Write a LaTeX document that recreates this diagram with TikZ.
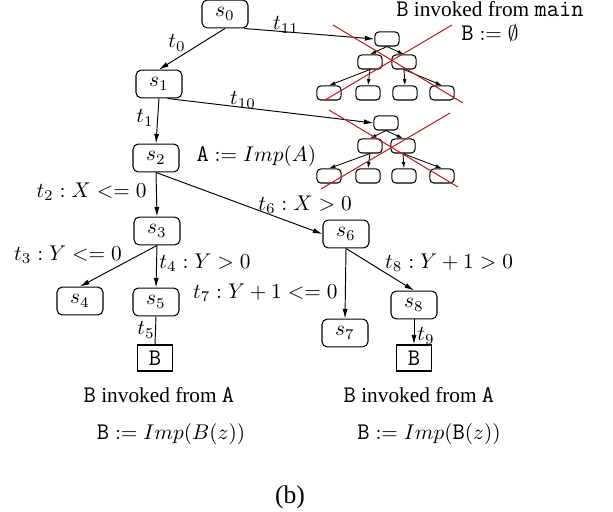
\documentclass[tikz,border=0pt]{standalone}
\usepackage[no-math]{fontspec}
\setmainfont{Liberation Serif}
\usetikzlibrary{arrows.meta}
\definecolor{crossred}{RGB}{185,35,35}
\newcommand{\cw}[1]{\mbox{\fontsize{11.2}{13}\selectfont\ttfamily #1}}
\begin{document}
\begin{tikzpicture}[x=0.4695pt,y=-0.4695pt,
    state/.style={draw,rounded corners=2.5pt,minimum width=21.6pt,minimum height=13.1pt,inner sep=1pt,line width=0.5pt},
    sub/.style={draw,rounded corners=1.8pt,minimum width=11.3pt,minimum height=6.6pt,inner sep=0pt,line width=0.5pt},
    call/.style={draw,minimum width=16.5pt,minimum height=12.2pt,inner sep=1pt,line width=0.5pt},
    tr/.style={-{Latex[length=4.5pt,width=2.4pt]},line width=0.45pt},
    trs/.style={-{Latex[length=3pt,width=1.8pt]},line width=0.4pt},
    cross/.style={crossred,line width=0.5pt}]
    \useasboundingbox (0,0) rectangle (613,512);
    % states
    \node[state] (s0) at (225,14) {$s_0$};
    \node[state] (s1) at (159,84) {$s_1$};
    \node[state] (s2) at (156,158) {$s_2$};
    \node[state] (s3) at (157,231) {$s_3$};
    \node[state] (s4) at (80,301) {$s_4$};
    \node[state] (s5) at (156,302) {$s_5$};
    \node[state] (s6) at (346,234) {$s_6$};
    \node[state] (s7) at (345,333) {$s_7$};
    \node[state] (s8) at (414,305) {$s_8$};
    \node[call] (bl) at (155,358) {\cw{B}};
    \node[call] (br) at (414,358) {\cw{B}};
    % subtree invoked from main
    \node[sub] (ma) at (387,39) {};
    \node[sub] (mb) at (370,62) {};
    \node[sub] (mc) at (404,62) {};
    \node[sub] (md) at (329,93) {};
    \node[sub] (me) at (368,93) {};
    \node[sub] (mf) at (405,93) {};
    \node[sub] (mg) at (442,93) {};
    \draw[trs] (ma.south) -- (mb.north);
    \draw[trs] (ma.south) -- (mc.north);
    \draw[trs] (mb.south) -- (md.north);
    \draw[trs] (mb.south) -- (me.north);
    \draw[trs] (mc.south) -- (mf.north);
    \draw[trs] (mc.south) -- (mg.north);
    % subtree from s1
    \node[sub] (na) at (386,123) {};
    \node[sub] (nb) at (370,146) {};
    \node[sub] (nc) at (403,146) {};
    \node[sub] (nd) at (329,176) {};
    \node[sub] (ne) at (368,176) {};
    \node[sub] (nf) at (404,176) {};
    \node[sub] (ng) at (442,176) {};
    \draw[trs] (na.south) -- (nb.north);
    \draw[trs] (na.south) -- (nc.north);
    \draw[trs] (nb.south) -- (nd.north);
    \draw[trs] (nb.south) -- (ne.north);
    \draw[trs] (nc.south) -- (nf.north);
    \draw[trs] (nc.south) -- (ng.north);
    % transitions
    \draw[tr] (s0.south) -- (s1.north);
    \draw[tr] ([xshift=-2pt]s0.south east) -- (ma.west);
    \draw[tr] ([xshift=4pt]s1.south) -- (na.west);
    \draw[tr] (s1.south) -- (s2.north);
    \draw[tr] (s2.south) -- (s3.north);
    \draw[tr] (s2.south) -- (s6.west);
    \draw[tr] (s3.south) -- (s4.north);
    \draw[tr] (s3.south) -- (s5.north);
    \draw[line width=0.45pt] (s5.south) -- (bl.north);
    \draw[tr] (s6.south) -- (s7.north);
    \draw[tr] (s6.south) -- (s8.north);
    \draw[tr] (s8.south) -- (br.north);
    % crossed out
    \draw[cross] (333,25) -- (463,103);
    \draw[cross] (452,25) -- (325,100);
    \draw[cross] (329,110) -- (458,187);
    \draw[cross] (450,113) -- (321,189);
    % labels
    \node (l0) at (177,43) {$t_0$};
    \node (l1) at (145,118) {$t_1$};
    \node (l11) at (286,25) {$t_{11}$};
    \node (l10) at (243,100) {$t_{10}$};
    \node[anchor=west] (ia) at (189,156) {$\cw{A} := Imp(A)$};
    \node[anchor=east] (l2) at (154,192) {$t_2 : X <= 0$};
    \node (l6) at (305,205) {$t_6 : X > 0$};
    \node (l3) at (68,255) {$t_3 : Y <= 0$};
    \node (l4) at (205,263) {$t_4 : Y > 0$};
    \node (l5) at (146,330) {$t_5$};
    \node[anchor=east] (l7) at (345,293) {$t_7 : Y+1 <= 0$};
    \node (l8) at (449,263) {$t_8 : Y+1 > 0$};
    \node (l9) at (426,336) {$t_9$};
    \node[inner sep=1pt] (im) at (490,9) {\cw{B} invoked from \cw{main}};
    \node[inner sep=1pt] (em) at (490,33) {$\cw{B} := \emptyset$};
    \node (ibl) at (159,395) {\cw{B} invoked from \cw{A}};
    \node (pbl) at (171,434) {$\cw{B} := Imp(B(z))$};
    \node (ibr) at (419,395) {\cw{B} invoked from \cw{A}};
    \node (pbr) at (429,434) {$\cw{B} := Imp(\cw{B}(z))$};
    \node[font=\large] (cap) at (290,497) {(b)};
\end{tikzpicture}
\end{document}
